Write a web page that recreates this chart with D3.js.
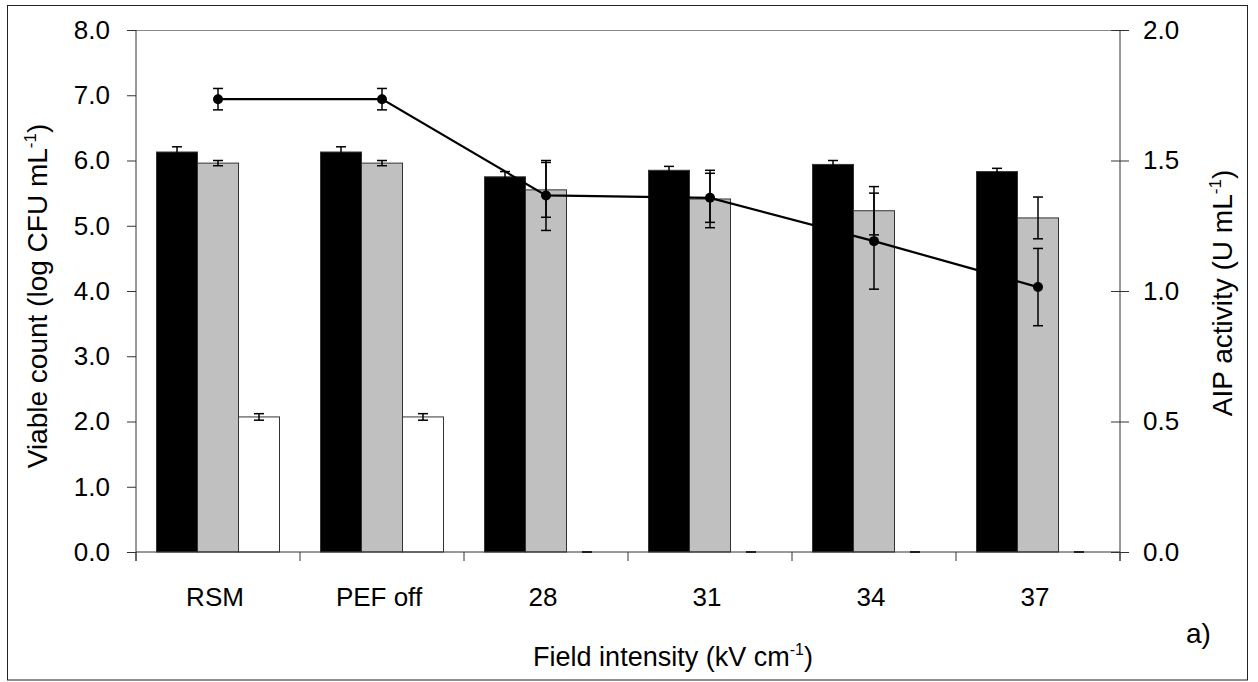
<!DOCTYPE html>
<html>
<head>
<meta charset="utf-8">
<script src="https://cdn.jsdelivr.net/npm/d3@7"></script>
<style>
  body { margin: 0; background: #fff; }
  text { font-family: "Liberation Sans", Arial, sans-serif; fill: #000; }
</style>
</head>
<body>
<script>
// data
const categories = ["RSM", "PEF off", "28", "31", "34", "37"];
const blackVals = [6.13, 6.13, 5.75, 5.85, 5.94, 5.83];
const blackErr = [0.08, 0.08, 0.08, 0.06, 0.06, 0.05];
const grayVals = [5.96, 5.96, 5.55, 5.41, 5.23, 5.12];
const grayErr = [0.04, 0.04, 0.42, 0.44, 0.37, 0.32];
const whiteVals = [2.07, 2.07, 0, 0, 0, 0];
const whiteErr = [0.05, 0.05, 0, 0, 0, 0];
const aipVals = [1.735, 1.735, 1.366, 1.357, 1.191, 1.015];
const aipErr = [0.041, 0.041, 0.134, 0.094, 0.184, 0.148];
const leftTicks = [0, 1, 2, 3, 4, 5, 6, 7, 8];
const rightTicks = [0, 0.5, 1, 1.5, 2];

// layout
const W = 1258, H = 682;
const plot = {left: 136, right: 1120, top: 30, bottom: 552};

const svg = d3.select("body").append("svg")
    .attr("width", W)
    .attr("height", H);

svg.append("rect")
    .attr("x", 7.5).attr("y", 5.5)
    .attr("width", 1240).attr("height", 674.5)
    .attr("fill", "#fff")
    .attr("stroke", "#222")
    .attr("stroke-width", 1);

const x = d3.scaleBand()
    .domain(categories)
    .range([plot.left, plot.right]);

const series = [
    {key: "black", vals: blackVals, err: blackErr, fill: "#000"},
    {key: "gray", vals: grayVals, err: grayErr, fill: "#c0c0c0"},
    {key: "white", vals: whiteVals, err: whiteErr, fill: "#fff"}
];

const xs = d3.scaleBand()
    .domain(series.map(s => s.key))
    .range([0, x.bandwidth()])
    .paddingOuter(0.5);

const yL = d3.scaleLinear().domain([0, 8]).range([plot.bottom, plot.top]);
const yR = d3.scaleLinear().domain([0, 2]).range([plot.bottom, plot.top]);

// top border line of plot area
svg.append("line")
    .attr("x1", plot.left).attr("x2", plot.right)
    .attr("y1", plot.top + 0.5).attr("y2", plot.top + 0.5)
    .attr("stroke", "#888");

// bars
series.forEach(function (s) {
    svg.append("g").selectAll("rect")
        .data(categories)
        .enter().append("rect")
        .attr("x", (c) => x(c) + xs(s.key))
        .attr("width", xs.bandwidth())
        .attr("y", (c, i) => yL(s.vals[i]))
        .attr("height", (c, i) => yL(0) - yL(s.vals[i]))
        .attr("fill", s.fill)
        .attr("stroke", (c, i) => s.vals[i] > 0 ? "#333" : "none")
        .attr("stroke-width", 1);
});

// error bars on bars
function errBar(g, cx, yTop, yBot, half, sw) {
    g.append("line").attr("x1", cx).attr("x2", cx).attr("y1", yTop).attr("y2", yBot)
        .attr("stroke", "#000").attr("stroke-width", sw);
    [yTop, yBot].forEach(function (yy) {
        g.append("line").attr("x1", cx - half).attr("x2", cx + half).attr("y1", yy).attr("y2", yy)
            .attr("stroke", "#000").attr("stroke-width", sw);
    });
}

const eg = svg.append("g");
series.forEach(function (s) {
    categories.forEach(function (c, i) {
        const cx = x(c) + xs(s.key) + xs.bandwidth() / 2;
        errBar(eg, cx, yL(s.vals[i] + s.err[i]), yL(Math.max(0, s.vals[i] - s.err[i])), 5, 1.5);
    });
});

// axes
const axisG = svg.append("g");
axisG.append("line")
    .attr("x1", plot.left).attr("x2", plot.left)
    .attr("y1", plot.top).attr("y2", plot.bottom + 9)
    .attr("stroke", "#333");
axisG.append("line")
    .attr("x1", plot.right).attr("x2", plot.right)
    .attr("y1", plot.top).attr("y2", plot.bottom + 9)
    .attr("stroke", "#333");
axisG.append("line")
    .attr("x1", plot.left).attr("x2", plot.right)
    .attr("y1", plot.bottom).attr("y2", plot.bottom)
    .attr("stroke", "#333");

// x ticks at band edges
const edges = categories.map(c => x(c)).concat([plot.right]);
axisG.selectAll(".xt").data(edges).enter().append("line")
    .attr("x1", d => d).attr("x2", d => d)
    .attr("y1", plot.bottom).attr("y2", plot.bottom + 9)
    .attr("stroke", "#333");

axisG.selectAll(".xl").data(categories).enter().append("text")
    .attr("x", c => x(c) + x.bandwidth() / 2 - 3)
    .attr("y", 606)
    .attr("text-anchor", "middle")
    .style("font-size", "26px")
    .text(c => c);

// left axis
const leftAxis = svg.append("g")
    .attr("transform", "translate(" + plot.left + ",0)")
    .call(d3.axisLeft(yL).tickValues(leftTicks).tickFormat(d3.format(".1f"))
        .tickSize(9).tickSizeOuter(0).tickPadding(17));
leftAxis.select(".domain").remove();
leftAxis.selectAll("line").attr("stroke", "#333");
leftAxis.selectAll("text").style("font-size", "26px").attr("font-family", null);

// right axis (ticks cross the line)
const rightAxis = svg.append("g")
    .attr("transform", "translate(" + plot.right + ",0)")
    .call(d3.axisRight(yR).tickValues(rightTicks).tickFormat(d3.format(".1f"))
        .tickSize(9).tickSizeOuter(0).tickPadding(14));
rightAxis.select(".domain").remove();
rightAxis.selectAll("line").attr("x1", -9).attr("stroke", "#333");
rightAxis.selectAll("text").style("font-size", "26px").attr("font-family", null);

// AIP line
const line = d3.line()
    .x((d, i) => x(categories[i]) + x.bandwidth() / 2)
    .y(d => yR(d));

svg.append("path")
    .datum(aipVals)
    .attr("d", line)
    .attr("fill", "none")
    .attr("stroke", "#000")
    .attr("stroke-width", 2.2);

const lg = svg.append("g");
categories.forEach(function (c, i) {
    const cx = x(c) + x.bandwidth() / 2;
    errBar(lg, cx, yR(aipVals[i] + aipErr[i]), yR(aipVals[i] - aipErr[i]), 5, 1.5);
});

lg.selectAll("circle")
    .data(aipVals)
    .enter().append("circle")
    .attr("cx", (d, i) => x(categories[i]) + x.bandwidth() / 2)
    .attr("cy", d => yR(d))
    .attr("r", 5)
    .attr("fill", "#000");

// axis titles
const yTitle = svg.append("text")
    .attr("transform", "translate(47,296) rotate(-90)")
    .attr("text-anchor", "middle")
    .style("font-size", "28px");
yTitle.append("tspan").text("Viable count (log CFU mL");
yTitle.append("tspan").attr("dy", -11).style("font-size", "17px").text("-1");
yTitle.append("tspan").attr("dy", 11).text(")");

const rTitle = svg.append("text")
    .attr("transform", "translate(1232,293) rotate(-90)")
    .attr("text-anchor", "middle")
    .style("font-size", "28px");
rTitle.append("tspan").text("AIP activity (U mL");
rTitle.append("tspan").attr("dy", -11).style("font-size", "17px").text("-1");
rTitle.append("tspan").attr("dy", 11).text(")");

const xTitle = svg.append("text")
    .attr("x", 673)
    .attr("y", 666)
    .attr("text-anchor", "middle")
    .style("font-size", "27px");
xTitle.append("tspan").text("Field intensity (kV cm");
xTitle.append("tspan").attr("dy", -11).style("font-size", "16px").text("-1");
xTitle.append("tspan").attr("dy", 11).text(")");

svg.append("text")
    .attr("x", 1186)
    .attr("y", 643)
    .style("font-size", "28px")
    .text("a)");
</script>
</body>
</html>
